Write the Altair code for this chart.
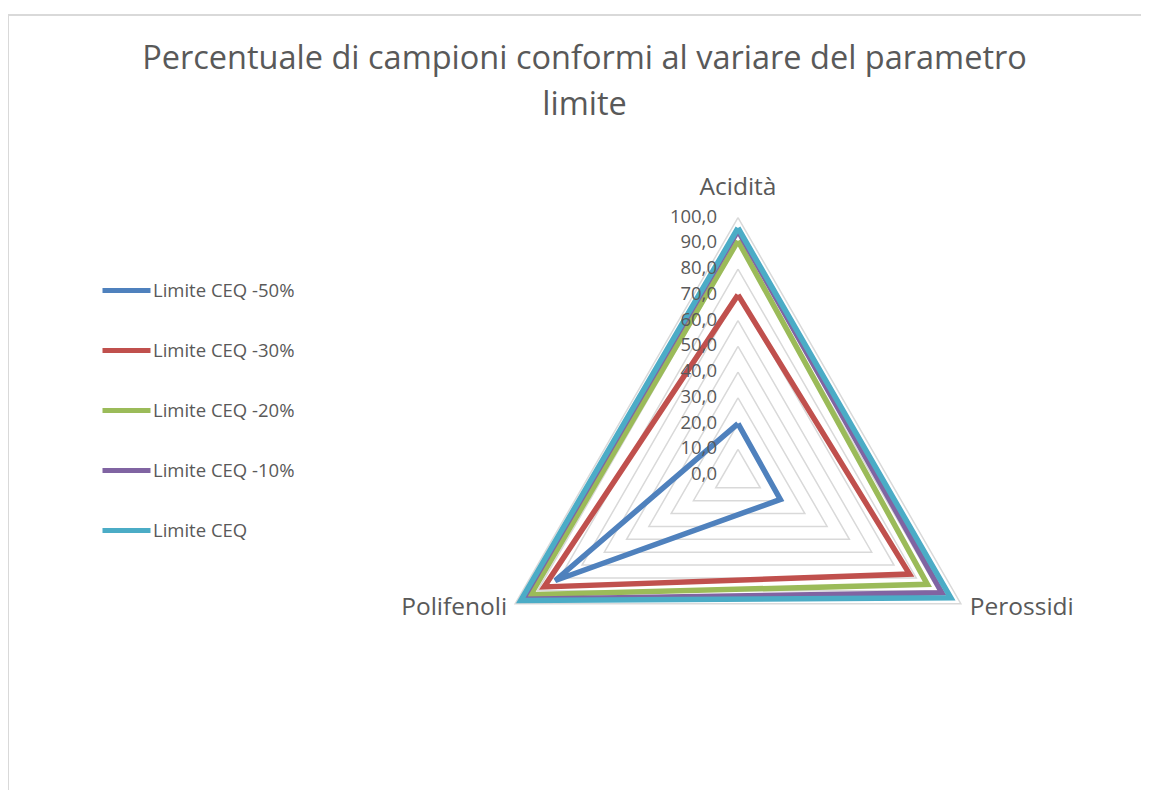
import altair as alt
import pandas as pd

categories = ["Acidità", "Perossidi", "Polifenoli"]
series = ["Limite CEQ -50%", "Limite CEQ -30%", "Limite CEQ -20%", "Limite CEQ -10%", "Limite CEQ"]
values_50 = [20.0, 19.0, 82.0]
values_30 = [70.0, 77.0, 87.0]
values_20 = [91.0, 85.0, 93.0]
values_10 = [95.0, 91.5, 96.5]
values_ceq = [96.0, 95.5, 97.5]
colors = ["#4F81BD", "#C0504D", "#9BBB59", "#8064A2", "#4BACC6"]
tick_values = [0, 10, 20, 30, 40, 50, 60, 70, 80, 90, 100]
tick_labels = ["0,0", "10,0", "20,0", "30,0", "40,0", "50,0", "60,0", "70,0", "80,0", "90,0", "100,0"]
title_lines = ["Percentuale di campioni conformi al variare del parametro", "limite"]

FONT = "Open Sans"
TXT = "#595959"
GRID = "#D9D9D9"
W, H = 1133, 775

all_values = [values_50, values_30, values_20, values_10, values_ceq]
rows = []
for s_i, (name, vals) in enumerate(zip(series, all_values)):
    for k in range(len(categories) + 1):
        c = k % len(categories)
        rows.append({"series": name, "sidx": s_i, "category": categories[c],
                     "idx": k, "value": vals[c]})
df = pd.DataFrame(rows)

grid_rows = []
for v in tick_values:
    for k in range(len(categories) + 1):
        grid_rows.append({"ring": v, "idx": k, "value": v})
grid_df = pd.DataFrame(grid_rows)

cat_df = pd.DataFrame({"category": categories, "idx": list(range(len(categories))),
                       "value": [max(tick_values)] * len(categories)})
tick_df = pd.DataFrame({"tv": tick_values, "label": tick_labels})

xscale = alt.Scale(domain=[-283.72, 156.63], nice=False, zero=False)
yscale = alt.Scale(domain=[-122.42, 178.78], nice=False, zero=False)
X = alt.X("px:Q", scale=xscale, axis=None)
Y = alt.Y("py:Q", scale=yscale, axis=None)

def polar(ch):
    return ch.transform_calculate(
        ang="datum.idx * 2 * PI / 3"
    ).transform_calculate(
        px="datum.value * sin(datum.ang)",
        py="datum.value * cos(datum.ang)",
    )

grid = polar(alt.Chart(grid_df)).mark_line(color=GRID, strokeWidth=1.5, strokeJoin="miter").encode(
    x=X, y=Y, detail="ring:N", order="idx:Q")

color = alt.Color("series:N", scale=alt.Scale(domain=series, range=colors),
                  legend=alt.Legend(title=None, orient="none", legendX=92, legendY=249,
                                    symbolType="stroke", symbolSize=2304, symbolStrokeWidth=5,
                                    labelFont=FONT, labelFontSize=18.5, labelColor=TXT,
                                    labelOffset=0, rowPadding=23, padding=0))

series_layers = []
for name in series:
    series_layers.append(
        polar(alt.Chart(df)).transform_filter(alt.datum.series == name)
        .mark_line(strokeWidth=5.5, strokeJoin="miter")
        .encode(x=X, y=Y, color=color, order="idx:Q")
    )

def cat_text(name, align, dx, dy):
    return polar(alt.Chart(cat_df)).transform_filter(alt.datum.category == name).mark_text(
        font=FONT, fontSize=24.5, color=TXT, align=align, baseline="middle", dx=dx, dy=dy
    ).encode(x=X, y=Y, text="category:N")

cats = [cat_text(categories[0], "center", 0, -30),
        cat_text(categories[1], "left", 9, 4),
        cat_text(categories[2], "right", -8, 4)]

ticks = alt.Chart(tick_df).transform_calculate(px="0", py="datum.tv").mark_text(
    font=FONT, fontSize=18.5, color=TXT, align="right", baseline="middle", dx=-21, dy=-1
).encode(x=X, y=Y, text="label:N")

one = pd.DataFrame({"a": [0]})
frame_top = alt.Chart(one).mark_rule(color=GRID, strokeWidth=2).encode(
    x=alt.value(0), x2=alt.value(W), y=alt.value(0))
frame_left = alt.Chart(one).mark_rule(color=GRID, strokeWidth=2).encode(
    y=alt.value(0), y2=alt.value(H), x=alt.value(0))

chart = alt.layer(frame_top, frame_left, grid, *series_layers, *cats, ticks).properties(
    width=W, height=H,
    autosize=alt.AutoSizeParams(type="none"),
    padding={"left": 0, "top": 7, "right": 0, "bottom": 0},
    title=alt.TitleParams(text=title_lines, font=FONT, fontSize=32.5, color=TXT,
                          fontWeight="normal", anchor="middle", offset=-107, dx=10,
                          lineHeight=46),
    background="white",
).configure_view(stroke=None)

chart.save("out.html", embed_options={"renderer": "svg", "actions": False})
